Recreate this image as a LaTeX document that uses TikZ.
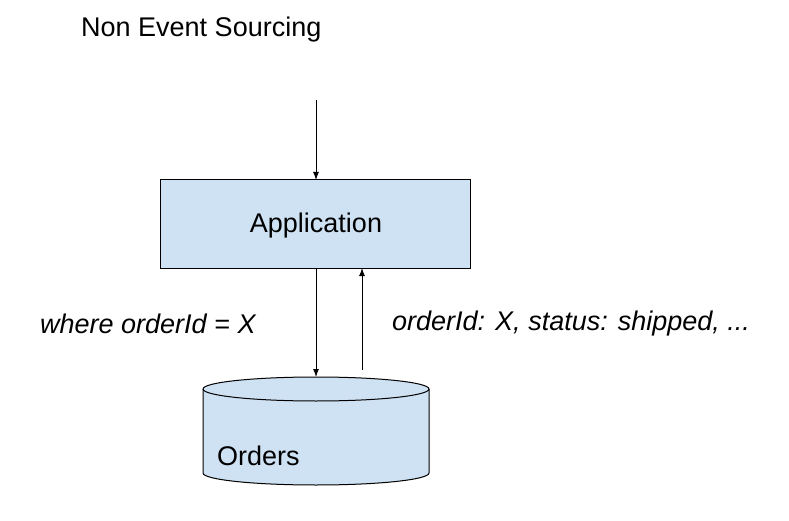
\documentclass[tikz,border=0pt]{standalone}
\usepackage{fontspec}
\setmainfont{Liberation Sans}
\usetikzlibrary{arrows.meta}
\definecolor{boxblue}{HTML}{CFE2F3}
\begin{document}
\begin{tikzpicture}[x=1pt,y=-1pt,
  lbl/.style={font=\fontsize{27}{32}\selectfont,inner sep=0pt},
  arr/.style={-{Latex[length=8pt,width=6pt]},line width=1pt}]
\useasboundingbox (0,0) rectangle (789,521);
\node[lbl,anchor=west] (title) at (81,30) {Non Event Sourcing};
\node[draw,fill=boxblue,line width=1pt,minimum width=310pt,minimum height=88pt,inner sep=0pt] (app) at (315,224) {};
\node[lbl] (apptxt) at (316,226) {Application};
\coordinate (in) at (316,100);
\draw[arr] (in) -- (316,180);
% cylinder
\draw[fill=boxblue,line width=1pt] (203,389) -- (203,473) arc[start angle=180,end angle=0,x radius=113,y radius=12] -- (429,389) arc[start angle=0,end angle=-180,x radius=113,y radius=12] -- cycle;
\draw[line width=1pt] (203,389) arc[start angle=180,end angle=0,x radius=113,y radius=12];
\node[lbl,anchor=west] (orders) at (217,456) {Orders};
\coordinate (db) at (316,377);
\draw[arr] (316,268) -- (db);
\draw[arr] (362,370) -- (362,268);
\node[lbl,anchor=west,font=\fontsize{27}{32}\selectfont\itshape] (q) at (40,324) {where orderId = X};
\node[lbl,anchor=west,font=\fontsize{27}{32}\selectfont\itshape] (r) at (392,324) {orderId: X, status: shipped, ...};
\end{tikzpicture}
\end{document}
